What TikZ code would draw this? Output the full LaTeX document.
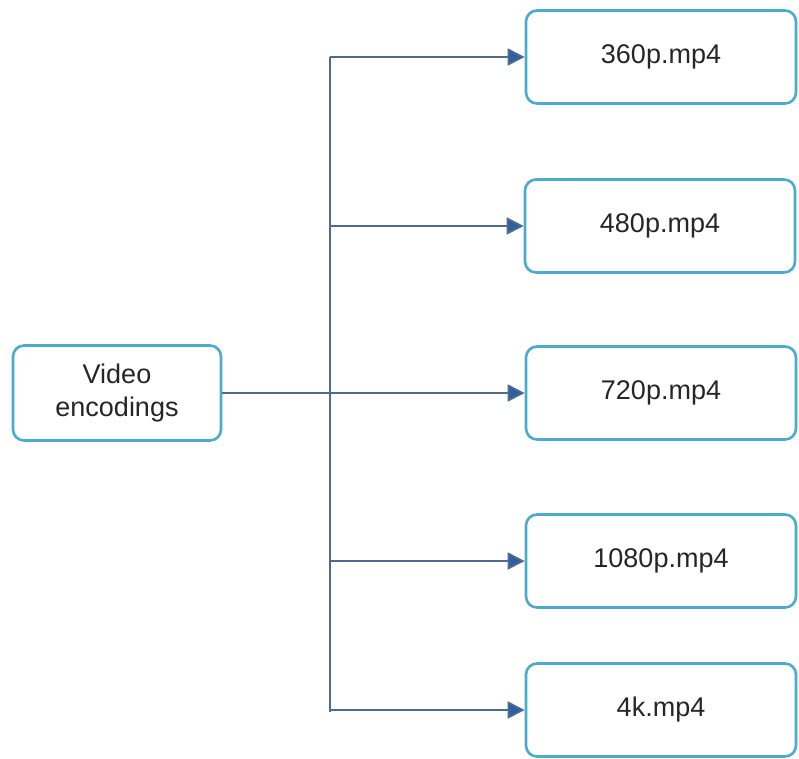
\documentclass[tikz,border=0pt]{standalone}
\usepackage{fontspec}
\setmainfont{Liberation Sans}
\usepackage{xcolor}
\usetikzlibrary{arrows.meta,positioning,calc}

\definecolor{boxline}{HTML}{4AABCB}
\definecolor{wire}{HTML}{4C6B8E}
\definecolor{tipblue}{HTML}{2C60A2}

\begin{document}
\begin{tikzpicture}[
    x=1pt, y=-1pt,
    >={Triangle[length=17pt,width=17pt,fill=tipblue]},
    fbox/.style={draw=boxline,line width=2.6pt,rounded corners=11pt,fill=white,
                 minimum width=270pt,minimum height=93pt,inner sep=2pt,
                 text=black!85,font=\fontsize{27}{33}\selectfont,align=center},
    srcbox/.style={fbox,minimum width=208pt,minimum height=95pt},
    feed/.style={->,wire,line width=1.8pt,draw=wire},
  ]
  \useasboundingbox (0,0) rectangle (799,758);

  % --- source (left) ---
  \node[srcbox] (enc) at (117,393) {Video\\encodings};

  % --- output files (right column) ---
  \node[fbox] (f360)  at (661,57)  {360p.mp4};
  \node[fbox] (f480)  at (660,226) {480p.mp4};
  \node[fbox] (f720)  at (661,393) {720p.mp4};
  \node[fbox] (f1080) at (661,561) {1080p.mp4};
  \node[fbox] (f4k)   at (661,710) {4k.mp4};

  % --- trunk ---
  \coordinate (top) at (330,57);
  \coordinate (bot) at (330,712);
  \draw[wire,line width=1.8pt] (top) -- (bot);

  % --- edges ---
  \draw[feed] (enc) -- (f720);
  \foreach \t in {f360,f480,f1080,f4k} { \draw[feed] (top |- \t.west) -- (\t.west); }

\end{tikzpicture}
\end{document}
